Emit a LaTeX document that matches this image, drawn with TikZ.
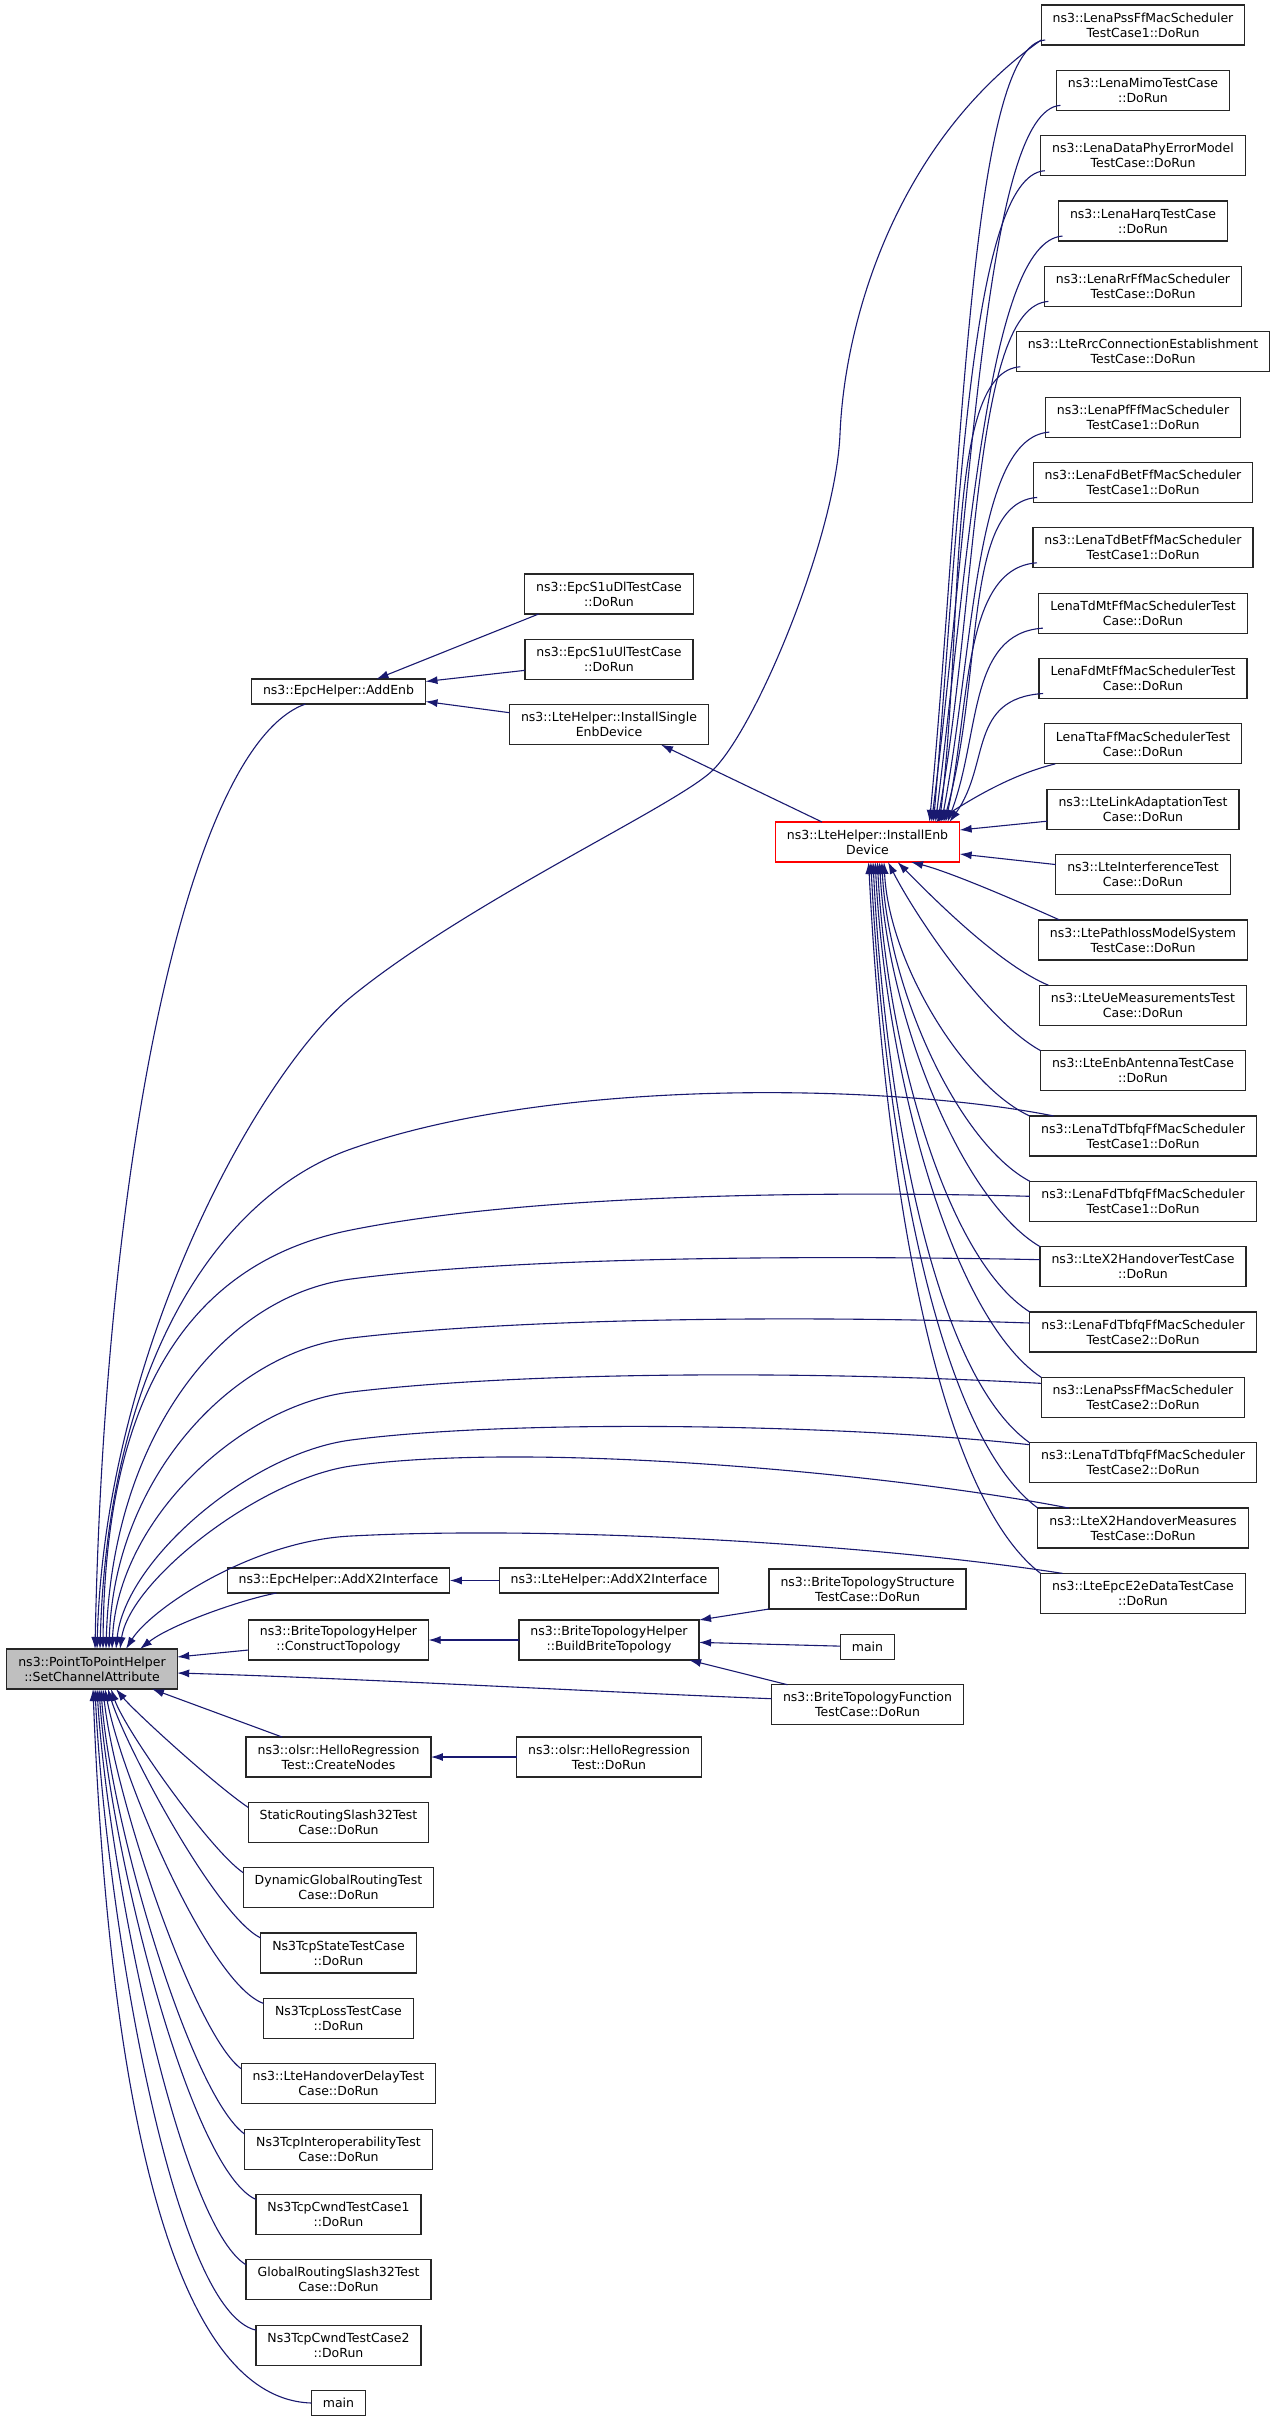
\documentclass[tikz,border=0pt]{standalone}
\usepackage{fontspec}
\setmainfont{DejaVu Sans}
\usepackage{tikz}
\usetikzlibrary{positioning,arrows.meta}
\definecolor{edgeblue}{HTML}{191970}
\definecolor{nodegray}{HTML}{BFBFBF}

\begin{document}
\begin{tikzpicture}[x=1pt,y=-1pt,
  fn/.style={
   draw=black!85,
   line width=1.2pt,
   fill=white,
   align=center,
   font=\fontsize{12.5}{15}\selectfont,
   inner xsep=11.5pt,
   inner ysep=5pt,
   outer sep=0pt,
   minimum height=25pt
  },
  dl/.style={
   fn,
   minimum height=40pt
  },
  call/.style={
   draw=edgeblue,
   line width=1.1pt,
   -{Latex[length=12pt,width=8pt]}
  },
  node distance=25.35pt]
  \fill[white] (0,0) rectangle (1277,2423);
  \useasboundingbox (0,0) rectangle (1277,2423);

  % the callee
  \node[dl,fill=nodegray] (sca) at (92,1669)
    {ns3::PointToPointHelper\\::SetChannelAttribute};

  % second column
  \node[fn] (addenb) at (338.5,691.5) {ns3::EpcHelper::AddEnb};
  \node[fn] (epcx2) at (338.5,1580.5) {ns3::EpcHelper::AddX2Interface};
  \node[dl] (ctopo) at (338.5,1640) {ns3::BriteTopologyHelper\\::ConstructTopology};
  \node[dl] (create) at (338.5,1757) {ns3::olsr::HelloRegression\\Test::CreateNodes};
  \foreach \n/\k/\txt in {
    srs/1/{StaticRoutingSlash32Test\\Case::DoRun},
    dgr/2/{DynamicGlobalRoutingTest\\Case::DoRun},
    tstate/3/{Ns3TcpStateTestCase\\::DoRun},
    tloss/4/{Ns3TcpLossTestCase\\::DoRun},
    hodel/5/{ns3::LteHandoverDelayTest\\Case::DoRun},
    tinter/6/{Ns3TcpInteroperabilityTest\\Case::DoRun},
    cwnd1/7/{Ns3TcpCwndTestCase1\\::DoRun},
    grs/8/{GlobalRoutingSlash32Test\\Case::DoRun},
    cwnd2/9/{Ns3TcpCwndTestCase2\\::DoRun}}
    \node[dl] (\n) at (338.5,{1757+65.35*\k}) {\txt};
  \node[fn,below=of cwnd2] (mainl) {main};

  % third column
  \node[dl] (s1dl) at (609,594) {ns3::EpcS1uDlTestCase\\::DoRun};
  \node[dl,below=of s1dl] (s1ul) {ns3::EpcS1uUlTestCase\\::DoRun};
  \node[dl,below=of s1ul] (single) {ns3::LteHelper::InstallSingle\\EnbDevice};
  \node[fn] (ltex2) at (609,1580.5) {ns3::LteHelper::AddX2Interface};
  \node[dl] (btopo) at (609,1640) {ns3::BriteTopologyHelper\\::BuildBriteTopology};
  \node[dl] (hrun) at (609,1757) {ns3::olsr::HelloRegression\\Test::DoRun};

  % fourth column
  \node[dl,draw=red] (enb) at (867.5,842) {ns3::LteHelper::InstallEnb\\Device};
  \node[dl] (bstruct) at (867.5,1589) {ns3::BriteTopologyStructure\\TestCase::DoRun};
  \node[fn,below=of bstruct] (mainr) {main};
  \node[dl,below=of mainr] (bfunc) {ns3::BriteTopologyFunction\\TestCase::DoRun};

  % test cases on the right
  \foreach \i/\txt in {
    1/{ns3::LenaPssFfMacScheduler\\TestCase1::DoRun},
    2/{ns3::LenaMimoTestCase\\::DoRun},
    3/{ns3::LenaDataPhyErrorModel\\TestCase::DoRun},
    4/{ns3::LenaHarqTestCase\\::DoRun},
    5/{ns3::LenaRrFfMacScheduler\\TestCase::DoRun},
    6/{ns3::LteRrcConnectionEstablishment\\TestCase::DoRun},
    7/{ns3::LenaPfFfMacScheduler\\TestCase1::DoRun},
    8/{ns3::LenaFdBetFfMacScheduler\\TestCase1::DoRun},
    9/{ns3::LenaTdBetFfMacScheduler\\TestCase1::DoRun},
    10/{LenaTdMtFfMacSchedulerTest\\Case::DoRun},
    11/{LenaFdMtFfMacSchedulerTest\\Case::DoRun},
    12/{LenaTtaFfMacSchedulerTest\\Case::DoRun},
    13/{ns3::LteLinkAdaptationTest\\Case::DoRun},
    14/{ns3::LteInterferenceTest\\Case::DoRun},
    15/{ns3::LtePathlossModelSystem\\TestCase::DoRun},
    16/{ns3::LteUeMeasurementsTest\\Case::DoRun},
    17/{ns3::LteEnbAntennaTestCase\\::DoRun},
    18/{ns3::LenaTdTbfqFfMacScheduler\\TestCase1::DoRun},
    19/{ns3::LenaFdTbfqFfMacScheduler\\TestCase1::DoRun},
    20/{ns3::LteX2HandoverTestCase\\::DoRun},
    21/{ns3::LenaFdTbfqFfMacScheduler\\TestCase2::DoRun},
    22/{ns3::LenaPssFfMacScheduler\\TestCase2::DoRun},
    23/{ns3::LenaTdTbfqFfMacScheduler\\TestCase2::DoRun},
    24/{ns3::LteX2HandoverMeasures\\TestCase::DoRun},
    25/{ns3::LteEpcE2eDataTestCase\\::DoRun}}
    \node[dl] (r\i) at (1143,{25+65.35*(\i-1)}) {\txt};

  % calls into the callee
  \draw[call] ([xshift=-33]addenb.south) .. controls (190,745) and (105,1150) .. ([xshift=3]sca.north);
  \draw[call] ([xshift=-62]epcx2.south) .. controls (240,1600) and (170,1625) .. ([xshift=48]sca.north);
  \draw[call] ([yshift=-10]ctopo.west) -- ([yshift=12]sca.east);
  \draw[call] ([yshift=6]bfunc.west) .. controls (600,1692) and (350,1678) .. ([yshift=-4]sca.east);
  \draw[call] ([xshift=36]create.north west) -- ([xshift=60]sca.south);
  \foreach \n/\ex/\ax/\ay/\bx/\by in {srs/24/215/1785/135/1712, dgr/19/210/1850/125/1730,
      tstate/16/215/1915/125/1745, tloss/13/210/1985/122/1780, hodel/11/195/2035/115/1800,
      tinter/9/190/2095/110/1820, cwnd1/7/190/2170/110/1850, grs/5/180/2225/108/1870,
      cwnd2/3/170/2310/105/1900}
    \draw[call] ([yshift=-5]\n.north west) .. controls (\ax,\ay) and (\bx,\by) .. ([xshift=\ex]sca.south);
  \draw[call] (mainl.west) .. controls (150,2398) and (105,2000) .. ([xshift=1]sca.south);

  % long calls from the right column
  \draw[call] ([yshift=5]r1.south west) .. controls (900,140) and (845,314) .. (840,434)
    .. controls (836,534) and (758,725) .. (713,770)
    .. controls (678,805) and (470,900) .. (351,997)
    .. controls (260,1071) and (105,1349) .. ([xshift=5]sca.north);
  \draw[call] ([xshift=24]r18.north west) .. controls (900,1085) and (560,1075) .. (351,1149)
    .. controls (220,1195) and (108,1360) .. ([xshift=8]sca.north);
  \draw[call] ([yshift=5]r19.west) .. controls (800,1190) and (520,1196) .. (351,1230)
    .. controls (200,1260) and (105,1380) .. ([xshift=11]sca.north);
  \draw[call] ([yshift=7]r20.west) .. controls (800,1255) and (520,1257) .. (351,1279)
    .. controls (220,1296) and (112,1440) .. ([xshift=14]sca.north);
  \draw[call] ([yshift=9]r21.west) .. controls (800,1315) and (520,1318) .. (351,1338)
    .. controls (230,1352) and (114,1480) .. ([xshift=17]sca.north);
  \draw[call] ([yshift=14]r22.west) .. controls (800,1370) and (520,1372) .. (351,1392)
    .. controls (240,1405) and (118,1520) .. ([xshift=20]sca.north);
  \draw[call] ([yshift=18]r23.west) .. controls (850,1425) and (520,1418) .. (351,1440)
    .. controls (250,1453) and (125,1560) .. ([xshift=24]sca.north);
  \draw[call] ([xshift=31]r24.north west) .. controls (900,1475) and (540,1440) .. (351,1466)
    .. controls (260,1479) and (130,1580) .. ([xshift=28]sca.north);
  \draw[call] ([xshift=22]r25.north west) .. controls (880,1545) and (560,1525) .. (351,1536)
    .. controls (250,1541) and (150,1610) .. ([xshift=34]sca.north);

  % AddEnb and the brite helpers
  \draw[call] ([xshift=14]s1dl.south west) -- ([xshift=38]addenb.north);
  \draw[call] ([yshift=-11]s1ul.west) -- ([yshift=10]addenb.east);
  \draw[call] ([yshift=12]single.west) -- ([yshift=-10]addenb.east);
  \draw[call] ([xshift=-45.5]enb.north) -- ([xshift=52]single.south);
  \draw[call] (ltex2) -- (epcx2);
  \draw[call] (btopo) -- (ctopo);
  \draw[call] (hrun) -- (create);
  \draw[call] (bstruct.south west) -- (btopo.north east);
  \draw[call] (mainr) -- (btopo);
  \draw[call] ([xshift=16]bfunc.north west) -- ([xshift=-10]btopo.south east);

  % calls into InstallEnbDevice
  \foreach \i in {1,...,11} {
    \pgfmathsetmacro\hy{0.45*(822-(40+65.35*(\i-1)))}
    \pgfmathsetmacro\ex{60+2*\i}
    \pgfmathsetmacro\vx{25+8*mod(\i,3)}
    \draw[call] ([xshift=4,yshift=5]r\i.south west) .. controls +(-75,5) and +(\vx,-\hy) .. ([xshift=\ex]enb.north);
  }
  \draw[call] ([xshift=11]r12.south west) .. controls (1010,775) and (970,800) .. ([xshift=68]enb.north);
  \draw[call] ([yshift=-12]r13.west) -- ([yshift=12]enb.east);
  \draw[call] ([yshift=10]r14.west) -- ([yshift=-12]enb.east);
  \draw[call] ([xshift=21]r15.north west) .. controls (1015,900) and (950,872) .. ([xshift=43.5]enb.south);
  \draw[call] ([xshift=9]r16.north west) .. controls (1000,965) and (935,900) .. ([xshift=30]enb.south);
  \draw[call] (r17.north west) .. controls (985,1020) and (915,915) .. ([xshift=20.5]enb.south);
  \foreach \i in {18,...,25} {
    \pgfmathsetmacro\dy{254+65.35*(\i-18)}
    \pgfmathsetmacro\ex{16.5-2.2*(\i-18)}
    \draw[call] (r\i.north west) .. controls +({-(40+0.1*\dy)},{-0.12*\dy}) and +({0.02*\dy},{0.4*\dy}) .. ([xshift=\ex]enb.south);
  }
\end{tikzpicture}
\end{document}
